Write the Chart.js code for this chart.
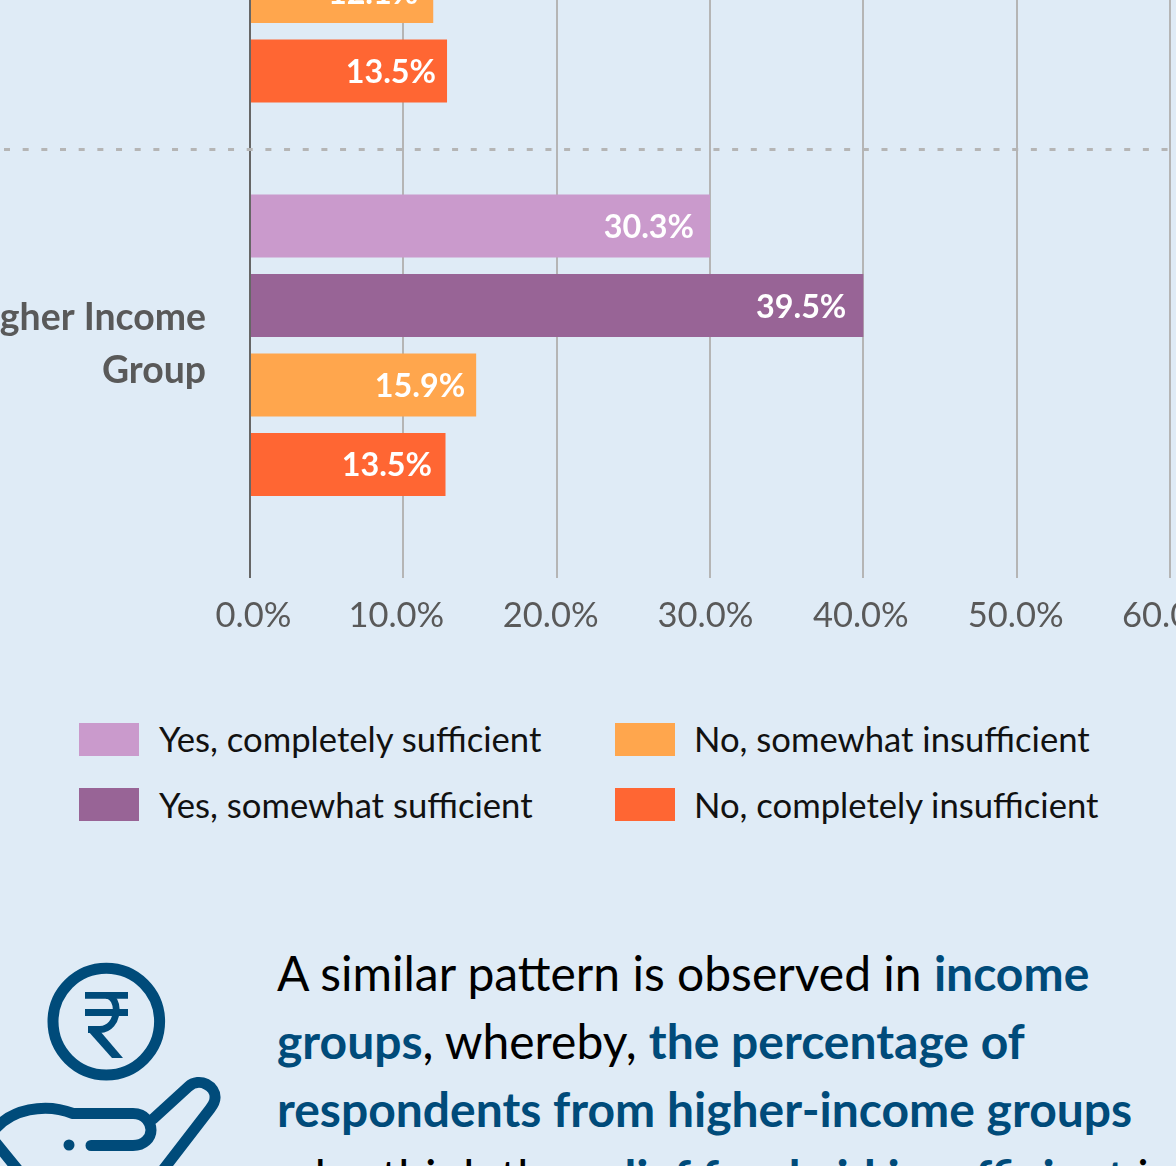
<!DOCTYPE html>
<html><head><meta charset="utf-8">
<style>
html,body{margin:0;padding:0;background:#DFEBF6}
#page{position:relative;width:1176px;height:1166px;overflow:hidden;background:#DFEBF6;font-family:Lato,sans-serif}
#wrap{position:absolute;left:0;top:-342px;width:1300px;height:1018px}
#legend{position:absolute;left:0;top:0}
.lg{position:absolute;white-space:nowrap;font-size:34.65px;line-height:40px;color:#111}
.sw{position:absolute;width:60px;height:33px}
#para{position:absolute;left:277px;top:939px;font-size:48px;line-height:68px;color:#000;white-space:nowrap}
#para b{color:#004B7A;font-weight:700}
#icon{position:absolute;left:0;top:940px}
</style></head><body>
<div id="page">
<div id="wrap"><canvas id="c" width="1300" height="1018"></canvas></div>
<div id="legend"></div>
<svg id="icon" width="240" height="226" viewBox="0 940 240 226" fill="none" stroke="#004B7A" stroke-width="11" stroke-linecap="round" stroke-linejoin="round">
<circle cx="106.3" cy="1021.6" r="53.3"/>
<g stroke-width="6.8" stroke-linecap="butt">
<path d="M85 995.3H128M85 1012.5H128"/>
<path d="M106 995.3C121 996 120 1029 100 1029.5H88"/>
</g>
<path d="M88 1031L112 1058H123L100 1031Z" fill="#004B7A" stroke="none"/>
<path d="M-8 1133C10 1108 46 1103 73 1113.5H133C146 1113.5 151 1124 151 1130C151 1138 144 1145.5 133 1145.5H91"/>
<circle cx="69" cy="1145" r="5.5" fill="#004B7A" stroke="none"/>
<path d="M153 1119L188 1087C200 1076 216 1087 215 1098C215 1102 213 1105 210 1109L163 1170"/>
<path d="M-4 1143L18 1170"/>
</svg>
<div id="para">A similar pattern is observed in <b>income</b><br><b>groups</b>, whereby, <b>the percentage of</b><br><b>respondents from higher-income groups</b><br>who think the <b>relief fund aid insufficient</b> is</div>
</div>
<script src="https://cdn.jsdelivr.net/npm/chart.js@4"></script>
<script>
const categories = ['', ['Higher Income', 'Group']];
const seriesNames = ['Yes, completely sufficient', 'Yes, somewhat sufficient', 'No, somewhat insufficient', 'No, completely insufficient'];
const seriesColors = ['#CA9ACC', '#986496', '#FFA64D', '#FF6633'];
const yesCompletely = [null, 30.0];
const yesSomewhat = [null, 40.0];
const noSomewhat = [11.95, 14.75];
const noCompletely = [12.85, 12.75];
const yesCompletelyLabels = [null, '30.3%'];
const yesSomewhatLabels = [null, '39.5%'];
const noSomewhatLabels = ['12.1%', '15.9%'];
const noCompletelyLabels = ['13.5%', '13.5%'];
const seriesValues = [yesCompletely, yesSomewhat, noSomewhat, noCompletely];
const seriesLabels = [yesCompletelyLabels, yesSomewhatLabels, noSomewhatLabels, noCompletelyLabels];

const labelInset = [[0, 16], [0, 17], [15, 11], [11, 13.5]];
const xLabelNudge = [3.5, -7, -6, -4.5, -2.5, -1, 0];

const barLabels = {
  id: 'barLabels',
  afterDatasetsDraw(chart) {
    const ctx = chart.ctx;
    ctx.save();
    ctx.font = '700 32.3px Lato';
    ctx.fillStyle = '#fff';
    ctx.textAlign = 'right';
    ctx.textBaseline = 'middle';
    chart.data.datasets.forEach((ds, i) => {
      chart.getDatasetMeta(i).data.forEach((bar, j) => {
        const t = seriesLabels[i][j];
        if (t) ctx.fillText(t, bar.x - labelInset[i][j], bar.y + 1.6);
      });
    });
    ctx.restore();
  }
};
const separator = {
  id: 'separator',
  afterDatasetsDraw(chart) {
    const y = chart.scales.y;
    const py = Math.round((y.getPixelForTick(0) + y.getPixelForTick(1)) / 2) + 1.5;
    const ctx = chart.ctx;
    ctx.save();
    ctx.strokeStyle = '#B5B5B5';
    ctx.lineWidth = 3;
    ctx.setLineDash([6, 12.67]);
    ctx.beginPath();
    ctx.moveTo(4, py);
    ctx.lineTo(chart.chartArea.right, py);
    ctx.stroke();
    ctx.restore();
  }
};
const nudgeLabels = {
  id: 'nudgeLabels',
  beforeDraw(chart) {
    chart.scales.x.getLabelItems().forEach((it, i) => {
      if (!it.nudged) { it.options.translation[0] += xLabelNudge[i]; it.nudged = true; }
    });
    chart.scales.y.getLabelItems().forEach(it => {
      if (!it.nudged) { it.options.translation[1] -= 1; it.nudged = true; }
    });
  }
};

const chart = new Chart(document.getElementById('c'), {
  type: 'bar',
  data: {
    labels: categories,
    datasets: seriesNames.map((n, i) => ({
      label: n, data: seriesValues[i], backgroundColor: seriesColors[i],
      categoryPercentage: 0.808, barPercentage: 0.794, borderWidth: 0
    }))
  },
  options: {
    indexAxis: 'y', responsive: false, animation: false,
    layout: { padding: { right: 130 } },
    plugins: { legend: { display: false }, tooltip: { enabled: false } },
    scales: {
      x: {
        min: 0, max: 60,
        afterFit(s) { s.height = 134; },
        border: { display: false },
        grid: {
          lineWidth: 2, drawTicks: true, tickLength: 36, tickWidth: 2,
          color: c => c.tick && c.tick.value === 0 ? '#666666' : '#B5B5B5',
          tickColor: c => c.tick && c.tick.value === 0 ? '#666666' : '#B5B5B5'
        },
        ticks: {
          stepSize: 10, maxRotation: 0, autoSkip: false, padding: 17,
          color: '#595959', font: { family: 'Lato', size: 34.5 },
          callback: v => v.toFixed(1) + '%'
        }
      },
      y: {
        afterFit(s) { s.width = 250; },
        border: { display: false },
        grid: { display: false, drawTicks: false },
        ticks: {
          padding: 44, autoSkip: false, color: '#595959',
          font: { family: 'Lato', size: 37.4, weight: '700', lineHeight: 1.417 }
        }
      }
    }
  },
  plugins: [nudgeLabels, separator, barLabels]
});

const legendEl = document.getElementById('legend');
const legendSpots = [[79, 723], [79, 788], [615, 723], [615, 788]];
chart.data.datasets.forEach((ds, i) => {
  const sw = document.createElement('div');
  sw.className = 'sw';
  sw.style.left = legendSpots[i][0] + 'px';
  sw.style.top = legendSpots[i][1] + 'px';
  sw.style.background = ds.backgroundColor;
  const t = document.createElement('div');
  t.className = 'lg';
  t.style.left = (legendSpots[i][0] + 80 - (i > 1 ? 1 : 0)) + 'px';
  t.style.top = (legendSpots[i][1] - (i % 2 ? 3 : 4)) + 'px';
  t.textContent = ds.label;
  legendEl.append(sw, t);
});
</script>
</body></html>
